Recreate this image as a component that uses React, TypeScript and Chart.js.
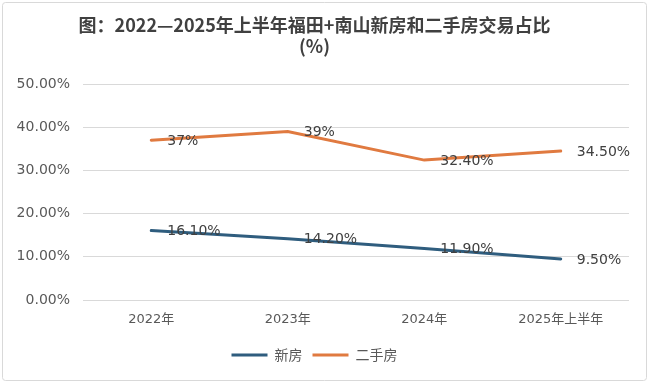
import React, { useEffect, useRef } from "react";
import { Chart, registerables } from "chart.js";

Chart.register(...registerables);

const categories = ["2022年", "2023年", "2024年", "2025年上半年"];
const newHomeValues = [16.1, 14.2, 11.9, 9.5];
const newHomeLabels = ["16.10%", "14.20%", "11.90%", "9.50%"];
const resaleValues = [37, 39, 32.4, 34.5];
const resaleLabels = ["37%", "39%", "32.40%", "34.50%"];
const titleLines = ["图：2022—2025年上半年福田+南山新房和二手房交易占比", "(%)"];

const BLUE = "#2f5d7e";
const ORANGE = "#e07a40";

const frameAndLabels = {
  id: "frameAndLabels",
  beforeDraw(chart: any) {
    const ctx = chart.ctx;
    ctx.save();
    ctx.fillStyle = "#ffffff";
    ctx.fillRect(0, 0, chart.width, chart.height);
    ctx.strokeStyle = "#d9d9d9";
    ctx.lineWidth = 1;
    ctx.beginPath();
    ctx.roundRect(2.5, 2.5, 644, 378, 3);
    ctx.stroke();
    ctx.restore();
  },
  afterDatasetsDraw(chart: any) {
    const ctx = chart.ctx;
    const labelSets = [newHomeLabels, resaleLabels];
    ctx.save();
    ctx.font = "14px 'DejaVu Sans', sans-serif";
    ctx.fillStyle = "#404040";
    ctx.textAlign = "left";
    ctx.textBaseline = "middle";
    chart.data.datasets.forEach((_ds: any, di: number) => {
      const meta = chart.getDatasetMeta(di);
      meta.data.forEach((pt: any, i: number) => {
        ctx.fillText(labelSets[di][i], pt.x + 16, pt.y + 1);
      });
    });
    ctx.restore();
  },
};

export default function App() {
  const ref = useRef<HTMLCanvasElement | null>(null);
  useEffect(() => {
    document.body.style.margin = "0";
    const chart = new Chart(ref.current as HTMLCanvasElement, {
      type: "line",
      data: {
        labels: categories,
        datasets: [
          {
            label: "新房",
            data: newHomeValues,
            borderColor: BLUE,
            backgroundColor: BLUE,
            borderWidth: 3,
            borderCapStyle: "round",
            pointRadius: 0,
            pointStyle: "line",
            tension: 0,
          },
          {
            label: "二手房",
            data: resaleValues,
            borderColor: ORANGE,
            backgroundColor: ORANGE,
            borderWidth: 3,
            borderCapStyle: "round",
            pointRadius: 0,
            pointStyle: "line",
            tension: 0,
          },
        ],
      },
      options: {
        animation: false,
        responsive: false,
        devicePixelRatio: 1,
        layout: { padding: { left: 0, right: 21, top: 0, bottom: 12 } },
        plugins: {
          title: {
            display: true,
            text: titleLines,
            color: "#404040",
            font: { family: "'Noto Sans CJK SC', sans-serif", size: 18, weight: "bold", lineHeight: 1.17 },
            padding: { top: 15, bottom: 27 },
          },
          legend: {
            position: "bottom",
            labels: {
              usePointStyle: true,
              pointStyleWidth: 36,
              boxHeight: 14,
              color: "#595959",
              padding: 10,
              font: { family: "'Noto Sans CJK SC', sans-serif", size: 14 },
            },
          },
          tooltip: { enabled: false },
        },
        scales: {
          x: {
            offset: true,
            grid: { display: false, drawTicks: false },
            border: { display: false },
            ticks: {
              color: "#595959",
              padding: 12,
              font: { family: "'DejaVu Sans', 'Noto Sans CJK SC', sans-serif", size: 13 },
            },
            afterFit(scale: any) {
              scale.height = 38;
            },
          },
          y: {
            min: 0,
            max: 50,
            grid: { color: "#d9d9d9", drawTicks: false },
            border: { display: false },
            ticks: {
              stepSize: 10,
              padding: 13,
              color: "#595959",
              font: { family: "'DejaVu Sans', sans-serif", size: 14 },
              callback: (v: any) => Number(v).toFixed(2) + "%",
            },
            afterFit(scale: any) {
              scale.width = 83;
            },
          },
        },
      },
      plugins: [frameAndLabels],
    });
    return () => chart.destroy();
  }, []);
  return <canvas ref={ref} width={650} height={384} style={{ display: "block" }} />;
}
